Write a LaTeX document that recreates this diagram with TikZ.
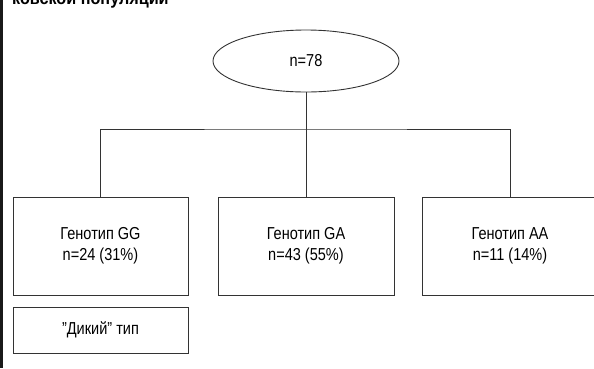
\documentclass[tikz,border=0pt]{standalone}
\usepackage{fontspec}
\setmainfont{Liberation Sans}[FakeStretch=0.84]
\newfontfamily\titlefont{Liberation Sans}[FakeStretch=0.9]
\usetikzlibrary{shapes.geometric}
\begin{document}
\begin{tikzpicture}[x=1pt,y=-1pt,
  line/.style={draw=black!80,line width=0.9pt},
  gbox/.style={line,rectangle,inner sep=0pt,align=center,font=\fontsize{17.3}{21}\selectfont},
  oval/.style={line,ellipse,inner sep=0pt,font=\fontsize{17.3}{21}\selectfont}]
\useasboundingbox (0,0) rectangle (594,368);
\clip (0,0) rectangle (594,368);
\fill[black!90] (0,0) rectangle (3,368);
\node[anchor=base west,font=\titlefont\bfseries\fontsize{18}{21}\selectfont,inner sep=0pt] (title) at (12,4) {ковской популяции};
\node[oval,minimum width=186,minimum height=62] (root) at (306,61) {n=78};
\node[gbox,minimum width=175,minimum height=98] (GG) at (100.5,246) {Генотип GG\\n=24 (31\%)};
\node[gbox,minimum width=176,minimum height=98] (GA) at (306,246) {Генотип GA\\n=43 (55\%)};
\node[gbox,minimum width=176,minimum height=98] (AA) at (510,246) {Генотип AA\\n=11 (14\%)};
\node[gbox,minimum width=175,minimum height=46] (wild) at (100.5,330) {”Дикий” тип};
\coordinate (bus) at (306,129);
\draw[line] (root.south) -- (bus);
\draw[line] (GG.north) |- (bus) -| (AA.north);
\draw[line] (bus) -- (GA.north);
\end{tikzpicture}
\end{document}
